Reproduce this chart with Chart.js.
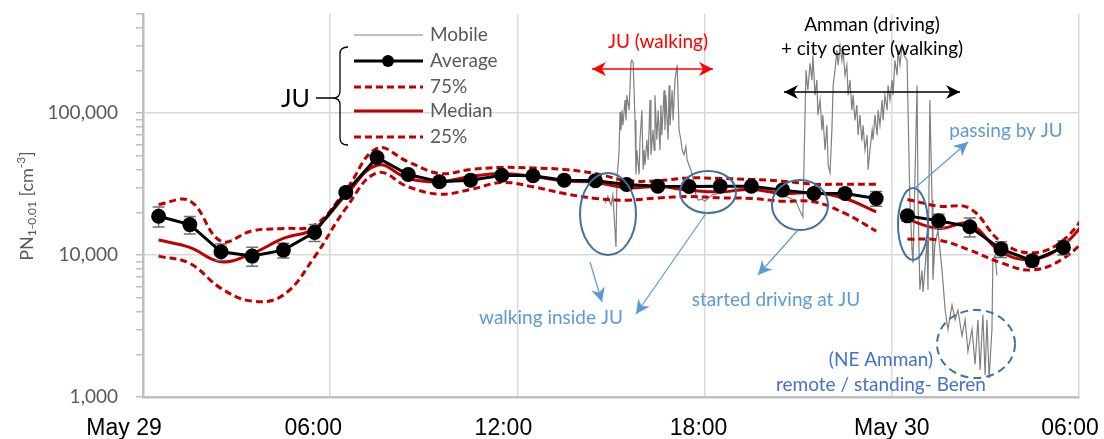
<!DOCTYPE html>
<html>
<head>
<meta charset="utf-8">
<title>PN JU vs mobile</title>
<script src="https://cdn.jsdelivr.net/npm/chart.js@4.4.0/dist/chart.umd.min.js"></script>
<style>
  body { margin: 0; background: #ffffff; }
  #wrap { width: 1104px; height: 439px; position: relative; }
</style>
</head>
<body>
<div id="wrap"><canvas id="pnChart"></canvas></div>
<script>
// --- Data (hours since May 29 00:00) ---
// JU hourly statistics; null breaks the line between the two days
const juHours = [0.5, 1.5, 2.5, 3.5, 4.5, 5.5, 6.5, 7.5, 8.5, 9.5, 10.5, 11.5, 12.5, 13.5, 14.5, 15.5,
  16.5, 17.5, 18.5, 19.5, 20.5, 21.5, 22.5, 23.5, 24, 24.5, 25.5, 26.5, 27.5, 28.5, 29.5, 30.5];
const avgValues = [18800, 16400, 10550, 9840, 10840, 14450, 27640, 48760, 37000, 32840, 33740, 36570, 36200, 33740, 33380, 31470,
  30600, 30400, 30600, 30600, 28700, 27170, 27170, 25070, null, 18900, 17440, 15830, 11020, 9120, 11330, null];
const avgError = [3000, 2300, 1400, 1500, 1300, 2000, 2000, 3000, 2500, 2000, 2000, 2200, 2200, 2000, 2000, 2000,
  1800, 1800, 1800, 1800, 1800, 1800, 2000, 3000, null, 1500, 2000, 2400, 1400, 800, 1300, null];
const p75Values = [22750, 24100, 12550, 14830, 15420, 16270, 28700, 56400, 45400, 37600, 40100, 41460, 41100, 40100, 37600, 33500,
  33380, 35000, 34670, 34130, 33200, 31620, 31620, 31620, null, 24680, 22130, 21320, 12410, 10380, 12760, 24000];
const medianValues = [12760, 11330, 8970, 10280, 13110, 15420, 26450, 43000, 34670, 32840, 35800, 37600, 35800, 33380, 32500, 29800,
  30400, 28700, 27900, 29000, 27170, 27470, 25070, 20180, null, 17840, 15420, 16530, 10550, 9330, 11760, 21000];
const p25Values = [9840, 8740, 5830, 4740, 5230, 9730, 21320, 38000, 30270, 26900, 29000, 32500, 30270, 27170, 25070, 24390,
  25300, 25830, 25300, 25070, 23990, 23730, 19660, 14760, null, 12960, 12760, 10840, 8830, 7850, 9480, 15000];

// Mobile measurement trace
const mobileHours = [14.81, 14.90, 15.00, 15.06, 15.16, 15.19, 15.26, 15.29, 15.32, 15.35, 15.38, 15.45, 15.48, 15.51, 15.58, 15.64,
  15.67, 15.71, 15.77, 15.80, 15.83, 15.90, 15.93, 15.99, 16.03, 16.06, 16.09, 16.15, 16.19, 16.25, 16.28, 16.35,
  16.38, 16.41, 16.47, 16.51, 16.57, 16.60, 16.63, 16.70, 16.73, 16.76, 16.83, 16.86, 16.89, 16.96, 16.99, 17.05,
  17.12, 17.15, 17.18, 17.24, 17.28, 17.34, 17.40, 17.44, 17.50, 17.56, 17.63, 17.72, 17.79, 17.92, 18.01, 18.11,
  18.24, 19.13, 20.10, 20.90, 21.15, 21.25, 21.31, 21.38, 21.44, 21.47, 21.54, 21.60, 21.63, 21.70, 21.76, 21.79,
  21.86, 21.92, 21.96, 22.02, 22.08, 22.12, 22.18, 22.24, 22.28, 22.34, 22.40, 22.44, 22.50, 22.56, 22.60, 22.66,
  22.72, 22.76, 22.82, 22.88, 22.92, 22.98, 23.04, 23.08, 23.14, 23.21, 23.24, 23.30, 23.37, 23.40, 23.46, 23.53,
  23.56, 23.62, 23.69, 23.72, 23.78, 23.85, 23.88, 23.94, 24.01, 24.04, 24.10, 24.17, 24.20, 24.26, 24.33, 24.39,
  24.49, 24.52, 24.58, 24.65, 24.68, 24.74, 24.81, 24.84, 24.90, 24.97, 25.00, 25.06, 25.13, 25.16, 25.22, 25.29,
  25.32, 25.38, 25.48, 25.61, 25.71, 25.80, 25.93, 26.03, 26.12, 26.25, 26.35, 26.44, 26.57, 26.67, 26.76, 26.83,
  26.92, 26.99, 27.05, 27.12, 27.21, 27.24, 27.31, 27.37];
const mobileValues = [23200, 26000, 22500, 26500, 11400, 33700, 54800, 102000, 76000, 105000, 82000, 124000, 89000, 134000, 105000, 229000,
  236000, 229000, 89000, 37000, 55000, 37000, 65000, 105000, 40000, 55000, 43000, 65000, 47000, 124000, 51000, 76000,
  55000, 134000, 65000, 105000, 55000, 114000, 70000, 145000, 76000, 134000, 65000, 157000, 82000, 145000, 89000, 171000,
  218000, 134000, 76000, 65000, 55000, 51000, 58000, 47000, 43000, 40000, 35000, 26500, 24400, 24800, 24000, 25200,
  26500, 29500, 28700, 24400, 18500, 201000, 145000, 225000, 171000, 256000, 134000, 171000, 97000, 124000, 76000, 97000,
  55000, 82000, 43000, 38000, 76000, 157000, 201000, 278000, 218000, 301000, 236000, 278000, 185000, 218000, 134000, 171000,
  105000, 134000, 89000, 114000, 70000, 97000, 64000, 82000, 55000, 70000, 40000, 55000, 76000, 65000, 97000, 70000,
  105000, 82000, 124000, 89000, 134000, 105000, 157000, 124000, 171000, 134000, 236000, 185000, 278000, 218000, 301000, 256000,
  236000, 105000, 24400, 10800, 8800, 33700, 157000, 24400, 5700, 7800, 5500, 7800, 12800, 5700, 124000, 24400,
  6700, 11800, 15000, 7800, 4100, 3000, 4450, 3500, 4100, 2700, 3500, 2100, 3000, 1700, 3500, 1550,
  3800, 1430, 3500, 1360, 3000, 9200, 10000, 7200];

// Axis ticks
const xTickHours = [0, 6, 12, 18, 24, 30];
const xTickLabels = ["May 29", "06:00", "12:00", "18:00", "May 30", "06:00"];
const yMajorTicks = [1000, 10000, 100000];
const yAllTicks = [1000, 2000, 3000, 4000, 5000, 6000, 7000, 8000, 9000, 10000, 20000, 30000, 40000, 50000, 60000, 70000,
  80000, 90000, 100000, 200000, 300000, 400000, 500000];

// label nudges (px) as placed in the original figure
const xLabelShift = [-19, -17, -14, -6, 0, -9];

const pts = (xs, ys) => xs.map((x, i) => ({ x: x, y: ys[i] }));

const RED = "#c00000";
const LBLUE = "#5b9bd5";
const DBLUE = "#41719c";

// Draws the error bars of the average series under its markers
const errorBars = {
  id: "errorBars",
  beforeDatasetDraw(chart, args) {
    if (args.index !== 4) return;
    const { ctx, scales } = chart;
    ctx.save();
    ctx.strokeStyle = "#6f6f6f";
    ctx.lineWidth = 1.5;
    juHours.forEach((h, i) => {
      if (avgValues[i] === null) return;
      const x = scales.x.getPixelForValue(h);
      const yTop = scales.y.getPixelForValue(avgValues[i] + avgError[i]);
      const yBot = scales.y.getPixelForValue(avgValues[i] - avgError[i]);
      ctx.beginPath();
      ctx.moveTo(x, yTop); ctx.lineTo(x, yBot);
      ctx.moveTo(x - 6, yTop); ctx.lineTo(x + 6, yTop);
      ctx.moveTo(x - 6, yBot); ctx.lineTo(x + 6, yBot);
      ctx.stroke();
    });
    ctx.restore();
  }
};

function arrowHead(ctx, x1, y1, x2, y2, len, half, color) {
  const a = Math.atan2(y2 - y1, x2 - x1);
  ctx.fillStyle = color;
  ctx.beginPath();
  ctx.moveTo(x2, y2);
  ctx.lineTo(x2 - len * Math.cos(a) + half * Math.sin(a), y2 - len * Math.sin(a) - half * Math.cos(a));
  ctx.lineTo(x2 - len * 0.7 * Math.cos(a), y2 - len * 0.7 * Math.sin(a));
  ctx.lineTo(x2 - len * Math.cos(a) - half * Math.sin(a), y2 - len * Math.sin(a) + half * Math.cos(a));
  ctx.closePath();
  ctx.fill();
}

function arrow(ctx, x1, y1, x2, y2, color, width, both) {
  ctx.strokeStyle = color;
  ctx.lineWidth = width;
  ctx.beginPath();
  ctx.moveTo(x1, y1); ctx.lineTo(x2, y2);
  ctx.stroke();
  arrowHead(ctx, x1, y1, x2, y2, 14, 7, color);
  if (both) arrowHead(ctx, x2, y2, x1, y1, 14, 7, color);
}

// Legend, axis texts and all the text / arrow / ellipse annotations
const overlay = {
  id: "overlay",
  afterDraw(chart) {
    const ctx = chart.ctx;
    const xs = chart.scales.x;
    ctx.save();

    // x tick labels, placed from the x scale
    ctx.fillStyle = "#000000";
    ctx.font = "23px 'Liberation Sans'";
    ctx.textAlign = "center";
    ctx.textBaseline = "alphabetic";
    xTickHours.forEach((h, i) => {
      ctx.fillText(xTickLabels[i], xs.getPixelForValue(h) + xLabelShift[i], 435);
    });

    // y axis title with sub / superscript
    ctx.save();
    ctx.translate(27, 206);
    ctx.rotate(-Math.PI / 2);
    ctx.fillStyle = "#595959";
    ctx.textAlign = "left";
    ctx.textBaseline = "middle";
    const parts = [["PN", 18, 0], ["1-0.01", 12, 5], [" [cm", 18, 0], ["-3", 12, -6], ["]", 18, 0]];
    let total = 0;
    parts.forEach(p => { ctx.font = p[1] + "px Lato"; total += ctx.measureText(p[0]).width; });
    let cx = -total / 2;
    parts.forEach(p => {
      ctx.font = p[1] + "px Lato";
      ctx.fillText(p[0], cx, p[2]);
      cx += ctx.measureText(p[0]).width;
    });
    ctx.restore();

    // legend
    const rows = [35, 61, 87, 111, 137];
    const names = ["Mobile", "Average", "75%", "Median", "25%"];
    rows.forEach((y, i) => {
      ctx.beginPath();
      ctx.setLineDash(i === 2 || i === 4 ? [7, 4] : []);
      ctx.strokeStyle = i === 0 ? "#808080" : i === 1 ? "#000000" : RED;
      ctx.lineWidth = i === 0 ? 1.2 : 3;
      ctx.moveTo(354, y); ctx.lineTo(423, y);
      ctx.stroke();
      ctx.setLineDash([]);
      if (i === 1) {
        ctx.fillStyle = "#000000";
        ctx.beginPath(); ctx.arc(388, y, 6, 0, Math.PI * 2); ctx.fill();
      }
      ctx.fillStyle = "#595959";
      ctx.font = "19px Lato";
      ctx.textAlign = "left";
      ctx.textBaseline = "middle";
      ctx.fillText(names[i], 430, y);
    });

    // JU brace
    ctx.strokeStyle = "#000000";
    ctx.lineWidth = 1.3;
    ctx.beginPath();
    ctx.moveTo(348, 47);
    ctx.quadraticCurveTo(340, 47, 340, 54);
    ctx.lineTo(340, 91);
    ctx.quadraticCurveTo(340, 98, 333, 98);
    ctx.quadraticCurveTo(340, 98, 340, 105);
    ctx.lineTo(340, 138);
    ctx.quadraticCurveTo(340, 145, 348, 145);
    ctx.moveTo(316, 98); ctx.lineTo(333, 98);
    ctx.stroke();
    ctx.fillStyle = "#000000";
    ctx.font = "25px Lato";
    ctx.textAlign = "right";
    ctx.fillText("JU", 310, 99);

    // region labels
    ctx.textAlign = "center";
    ctx.font = "19px Lato";
    ctx.fillStyle = "#ff0000";
    ctx.fillText("JU (walking)", 658, 42);
    arrow(ctx, 592, 69, 713, 69, "#ff0000", 1.5, true);
    ctx.fillStyle = "#000000";
    ctx.fillText("Amman (driving)", 872, 25);
    ctx.fillText("+ city center (walking)", 872, 49);
    arrow(ctx, 784, 92, 960, 92, "#000000", 1.5, true);

    // ellipses
    ctx.strokeStyle = DBLUE;
    ctx.lineWidth = 2;
    [[608, 214, 28, 41], [708, 192, 28, 21], [800, 205, 28, 25], [913, 224, 15, 36]].forEach(e => {
      ctx.beginPath(); ctx.ellipse(e[0], e[1], e[2], e[3], 0, 0, Math.PI * 2); ctx.stroke();
    });
    ctx.setLineDash([8, 5]);
    ctx.beginPath(); ctx.ellipse(976, 344, 39, 34, 0, 0, Math.PI * 2); ctx.stroke();
    ctx.setLineDash([]);

    // pointer arrows
    arrow(ctx, 590, 262, 602, 302, LBLUE, 1.2, false);
    arrow(ctx, 707, 212, 636, 314, LBLUE, 1.2, false);
    arrow(ctx, 798, 230, 758, 275, LBLUE, 1.2, false);
    arrow(ctx, 915, 188, 968, 142, LBLUE, 1.2, false);

    ctx.fillStyle = LBLUE;
    ctx.fillText("walking inside JU", 551, 318);
    ctx.fillText("started driving at JU", 776, 300);
    ctx.fillText("passing by JU", 1006, 131);
    ctx.fillStyle = "#4472c4";
    ctx.fillText("(NE Amman)", 881, 360);
    ctx.fillText("remote / standing- Beren", 881, 385);

    ctx.restore();
  }
};

const ctx = document.getElementById("pnChart").getContext("2d");
new Chart(ctx, {
  type: "line",
  data: {
    datasets: [
      { label: "Mobile", data: pts(mobileHours, mobileValues), borderColor: "#808080", borderWidth: 1.2,
        pointRadius: 0, tension: 0, order: 5 },
      { label: "75%", data: pts(juHours, p75Values), borderColor: RED, borderWidth: 3, borderDash: [7, 4],
        pointRadius: 0, tension: 0.4, order: 4 },
      { label: "25%", data: pts(juHours, p25Values), borderColor: RED, borderWidth: 3, borderDash: [7, 4],
        pointRadius: 0, tension: 0.4, order: 3 },
      { label: "Median", data: pts(juHours, medianValues), borderColor: RED, borderWidth: 3,
        pointRadius: 0, tension: 0.4, order: 2 },
      { label: "Average", data: pts(juHours, avgValues), borderColor: "#000000", borderWidth: 3,
        pointRadius: 7.5, pointBackgroundColor: "#000000", pointBorderWidth: 0, tension: 0, order: 1 }
    ]
  },
  options: {
    responsive: true,
    maintainAspectRatio: false,
    animation: false,
    spanGaps: false,
    layout: { padding: { left: 0, right: 25, top: 14, bottom: 0 } },
    plugins: { legend: { display: false }, tooltip: { enabled: false } },
    scales: {
      x: {
        type: "linear", min: 0, max: 30,
        afterBuildTicks: s => { s.ticks = xTickHours.map(v => ({ value: v })); },
        afterFit: s => { s.height = 42; s.paddingLeft = 0; s.paddingRight = 0; },
        ticks: { display: false },
        grid: { color: "#d9d9d9", lineWidth: 1.5, drawTicks: false },
        border: { color: "#bfbfbf", width: 2.5 }
      },
      y: {
        type: "logarithmic", min: 1000, max: 500000,
        afterBuildTicks: s => { s.ticks = yAllTicks.map(v => ({ value: v, major: yMajorTicks.includes(v) })); },
        afterFit: s => { s.width = 143; s.paddingTop = 0; s.paddingBottom = 0; },
        ticks: {
          callback: v => yMajorTicks.includes(v) ? v.toLocaleString("en-US") : "",
          color: "#595959", font: { family: "Lato", size: 19 }, padding: 18, autoSkip: false
        },
        grid: {
          color: c => yMajorTicks.includes(c.tick.value) ? "#d9d9d9" : "rgba(0,0,0,0)",
          tickColor: "#bfbfbf", lineWidth: 1.5, tickLength: 7
        },
        border: { color: "#bfbfbf", width: 2.5 }
      }
    }
  },
  plugins: [errorBars, overlay]
});
</script>
</body>
</html>
